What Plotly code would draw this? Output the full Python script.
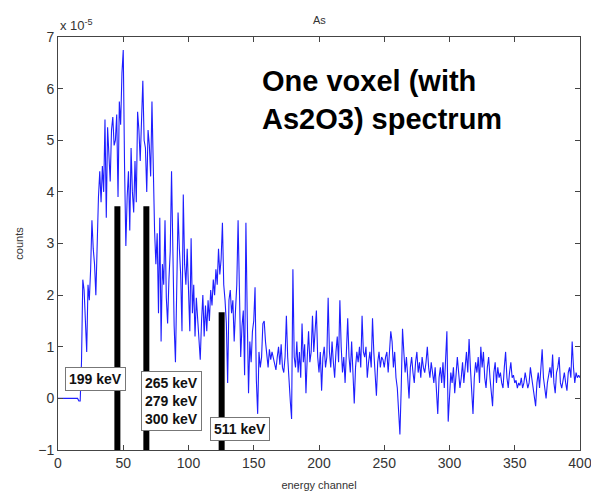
import plotly.graph_objects as go

# spectrum values (units of 1e-5 counts), one per energy channel 0..400
counts = [
    0, 0, 0, 0, 0, 0, 0, 0, 0, 0,
    0, 0, 0, 0, 0, 0, -0.05, -0.05, 0.7, 2.3,
    2.1, 1.6, 0.9, 2.2, 1.9, 2.5, 3.45, 2.9, 2.6, 2.0,
    3.2, 3.9, 4.4, 3.8, 4.5, 4.0, 5.4, 3.5, 5.25, 4.6,
    4.2, 5.2, 5.45, 4.9, 5.0, 5.5, 3.9, 5.75, 5.3, 6.3,
    6.75, 4.5, 2.95, 3.9, 4.4, 3.25, 4.85, 4.0, 3.6, 4.6,
    3.8, 5.55, 5.2, 4.6, 5.45, 6.15, 5.0, 4.85, 4.0, 5.2,
    4.9, 4.3, 5.75, 4.35, 3.25, 2.6, 3.2, 1.65, 3.5, 1.1,
    2.6, 2.2, 3.45, 1.95, 1.45, 2.3, 2.85, 4.4, 2.5, 1.4,
    0.7, 2.6, 3.6, 2.9, 2.4, 1.3, 3.95, 2.6, 2.2, 2.9,
    2.1, 1.3, 3.1, 1.65, 2.2, 1.2, 1.95, 1.6, 1.3, 0.75,
    1.5, 2.0, 1.2, 1.8, 1.3, 1.9, 1.5, 2.1, 1.8, 2.3,
    2.0, 2.5, 2.2, 2.9, 2.4, 2.7, 3.4, 2.2, 1.9, 1.45,
    0.3, 1.9, 2.1, 1.65, 1.9, 1.1, 1.7, 2.2, 3.45, 1.9,
    0.8, 1.4, 1.7, 0.45, 3.4, 1.6, 0.1, 1.1, 0.7, 1.3,
    1.5, 2.15, 0.35, -0.3, 0.9, 0.6, 0.8, 1.45, 1.5, 1.1,
    0.8, 0.6, 0.95, 0.75, 0.9, 0.8, 0.7, 0.55, 0.8, 1.0,
    0.65, 1.05, 0.6, 0.5, 0.8, 1.6, 0.8, 0.3, -0.05, -0.4,
    2.5, 0.8, 0.6, 1.1, 0.5, 0.9, 0.4, 1.45, 0.7, 1.05,
    0.1, 0.8, 1.3, 0.7, 0.9, 1.6, 0.9, 1.3, 1.7, 0.8,
    0.5, 0.9, 0.15, 0.8, 1.0, 0.6, 0.8, 1.95, 0.9, 0.6,
    1.1, 0.7, 0.4, 0.9, 1.2, 0.7, 1.9, 1.0, 0.5, 0.8,
    0.3, 0.9, 1.55, 0.8, 0.5, 1.1, 0.4, -0.1, 0.6, 0.9,
    0.7, 1.0, 0.6, 1.6, 0.9, 0.8, 1.0, 0.4, 0.7, 0.9,
    0.6, 1.55, 0.9, 0.5, 0.05, 0.7, 0.9, 0.6, 0.8, 0.75,
    0.6, 0.8, 0.9, 0.5, 0.9, 1.3, 1.1, 0.6, 0.9, 0.4,
    0.2, -0.3, -0.7, 0.2, 1.35, 0.9, 0.5, 0.8, 0.3, 0.0,
    0.6, 0.8, 0.5, 0.3, 0.7, 0.9, 0.5, 0.7, 0.4, 0.8,
    0.6, 0.5, 0.7, 1.0, 0.6, 0.4, 0.7, 0.5, 0.3, 0.6,
    0.1, -0.3, 0.4, 0.6, 0.3, 0.7, 0.2, 0.9, 1.3, -0.45,
    0.2, 0.5, 0.3, 0.6, 0.1, 0.4, 0.8, 0.5, 0.2, 0.4,
    0.7, 0.3, 0.6, 0.9, 0.5, 1.15, 0.6, 0.2, -0.3, 0.4,
    0.7, 0.5, 0.8, 0.3, 1.0, 0.6, 0.9, 0.4, 0.2, 0.6,
    0.8, 0.4, 0.1, -0.15, 0.5, 0.7, 0.3, 0.6, 0.4, 0.5,
    0.3, 0.2, 0.6, 0.9, 0.4, 0.2, 0.5, 0.7, 0.4, 0.45,
    0.3, 0.35, 0.2, 0.3, 0.25, 0.4, 0.2, 0.3, 0.5, 0.35,
    0.2, 0.3, 0.6, 0.4, 0.2, 0.0, -0.15, 0.3, 0.5, 0.2,
    0.6, 0.95, 0.4, 0.2, 0.0, 0.3, 0.5, 0.6, 0.4, 0.85,
    0.3, 0.1, 0.5, 0.6, 0.8, 0.3, 0.2, 0.4, 0.5, 0.3,
    0.15, 0.5, 0.6, 0.4, 1.1, 0.6, 0.3, 0.5, 0.4, 0.45,
    0.4,
]
channels = list(range(len(counts)))

# reference peak markers (channel, height in 1e-5 units)
peak_channels = [45.5, 67.7, 125.4]
peak_heights = [3.72, 3.72, 1.67]
peak_base = -1

# peak labels: text, channel, value
label_texts = ["199 keV", "265 keV<br>279 keV<br>300 keV", "511 keV"]
label_x = [29.1, 87.0, 139.5]
label_y = [0.37, -0.06, -0.6]

x_ticks = [0, 50, 100, 150, 200, 250, 300, 350, 400]
y_ticks = [-1, 0, 1, 2, 3, 4, 5, 6, 7]

FONT = "Arial, Liberation Sans, sans-serif"

fig = go.Figure()
fig.add_trace(go.Scatter(
    x=channels, y=counts, mode="lines",
    line=dict(color="rgb(30,30,255)", width=1.1),
    showlegend=False, hoverinfo="skip",
))

bx, by = [], []
for c, h in zip(peak_channels, peak_heights):
    bx += [c, c, None]
    by += [peak_base, h, None]
fig.add_trace(go.Scatter(
    x=bx, y=by, mode="lines",
    line=dict(color="black", width=6),
    showlegend=False, hoverinfo="skip",
))

for t, lx, ly in zip(label_texts, label_x, label_y):
    fig.add_annotation(
        x=lx, y=ly, xref="x", yref="y", text="<b>" + t + "</b>",
        showarrow=False, font=dict(family=FONT, size=14, color="#111"),
        bgcolor="white", bordercolor="#777", borderwidth=1, borderpad=3,
        align="center",
    )

fig.add_annotation(
    x=0.387, y=0.893, xref="paper", yref="paper", xanchor="left", yanchor="middle",
    text="<b>One voxel (with</b>", showarrow=False,
    font=dict(family=FONT, size=29, color="black"),
)
fig.add_annotation(
    x=0.387, y=0.801, xref="paper", yref="paper", xanchor="left", yanchor="middle",
    text="<b>As2O3) spectrum</b>", showarrow=False,
    font=dict(family=FONT, size=29, color="black"),
)

fig.add_annotation(
    x=0.5, y=1, xref="paper", yref="paper", yanchor="bottom", yshift=9,
    text="As", showarrow=False,
    font=dict(family=FONT, size=11, color="#333"),
)
fig.add_annotation(
    x=0, y=1, xref="paper", yref="paper", xanchor="left", yanchor="bottom", yshift=2,
    text="x 10<sup>-5</sup>", showarrow=False,
    font=dict(family=FONT, size=13, color="#333"),
)

axis_common = dict(
    showgrid=False, zeroline=False, showline=True, mirror="ticks",
    linecolor="#444", linewidth=1, ticks="inside", ticklen=5,
    tickcolor="#444", automargin=False,
    tickfont=dict(family=FONT, size=14, color="#333"),
)

fig.update_layout(
    width=591, height=487,
    margin=dict(l=50, r=19, t=29, b=45),
    paper_bgcolor="white", plot_bgcolor="white",
    xaxis=dict(range=[0, 400], tickvals=x_ticks,
               title=dict(text="energy channel", standoff=11,
                          font=dict(family=FONT, size=11, color="#333")),
               **axis_common),
    yaxis=dict(range=[-1, 7], tickvals=y_ticks,
               title=dict(text="counts", standoff=12,
                          font=dict(family=FONT, size=11, color="#333")),
               **axis_common),
)

fig.write_html("out.html")
